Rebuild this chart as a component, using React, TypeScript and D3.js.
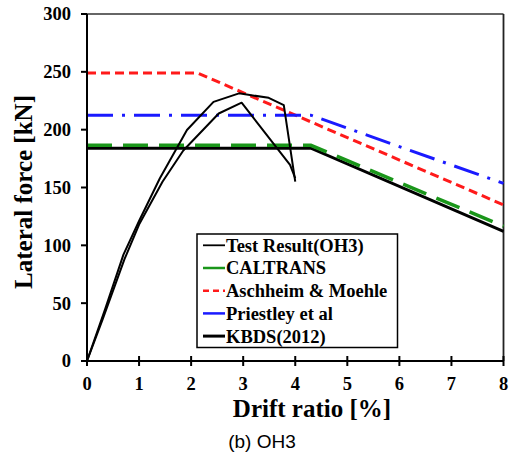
import React from "react";
import * as d3 from "d3";

type P = [number, number];

const xTicks = [0, 1, 2, 3, 4, 5, 6, 7, 8];
const yTicks = [0, 50, 100, 150, 200, 250, 300];

const testUpper: P[] = [
  [0, 0], [0.35, 45], [0.7, 92], [1.0, 121], [1.4, 158], [1.92, 199.7],
  [2.43, 224], [2.92, 231.4], [3.49, 227.5], [3.78, 221.3], [4.0, 155],
];
const testLower: P[] = [
  [0, 0], [0.3, 36], [0.72, 88], [1.0, 118], [1.45, 155], [1.85, 182],
  [2.53, 214], [2.97, 223.3], [3.9, 169.5], [4.0, 158],
];
const kbds: P[] = [[0, 184], [4.3, 184], [8, 112]];
const caltrans: P[] = [[0, 186.5], [4.3, 186.5], [8, 116.5]];
const aschheim: P[] = [[0, 249], [2.12, 249], [8, 135]];
const priestley: P[] = [[0, 212.5], [4.3, 212.5], [8, 153.5]];

const legendLabels = [
  "Test Result(OH3)",
  "CALTRANS",
  "Aschheim & Moehle",
  "Priestley et al",
  "KBDS(2012)",
];

const W = 516, H = 459;
const x = d3.scaleLinear().domain([0, 8]).range([87, 503.5]);
const y = d3.scaleLinear().domain([0, 300]).range([361, 14]);
const line = d3.line<P>().x((d) => x(d[0])).y((d) => y(d[1]));

const serif = "'Liberation Serif', 'Times New Roman', serif";

export default function App() {
  const legendStyles = [
    { stroke: "#000", w: 1.8, dash: undefined as string | undefined },
    { stroke: "#1a961a", w: 2.5, dash: undefined },
    { stroke: "#ff1a1a", w: 2.5, dash: "6,4" },
    { stroke: "#1a1aff", w: 2.5, dash: undefined },
    { stroke: "#000", w: 3, dash: undefined },
  ];
  return (
    <svg width={W} height={H} style={{ position: "absolute", left: 0, top: 0 }}>
      <rect width={W} height={H} fill="#fff" />
      {/* frame */}
      <line x1={x(0)} x2={x(8)} y1={y(300)} y2={y(300)} stroke="#333" strokeWidth={1.5} />
      <line x1={x(8)} x2={x(8)} y1={y(300)} y2={y(0)} stroke="#222" strokeWidth={1.8} />

      {/* series */}
      <path d={line(kbds)!} fill="none" stroke="#000" strokeWidth={3} />
      <path d={line(caltrans)!} fill="none" stroke="#1a961a" strokeWidth={3.5} strokeDasharray="25,11" />
      <path d={line(aschheim)!} fill="none" stroke="#ff1a1a" strokeWidth={3} strokeDasharray="9,5" />
      <path d={line(priestley)!} fill="none" stroke="#1a1aff" strokeWidth={3} strokeDasharray="26,9,3,9" />
      <path d={line(testUpper)!} fill="none" stroke="#000" strokeWidth={2} strokeLinejoin="round" />
      <path d={line(testLower)!} fill="none" stroke="#000" strokeWidth={2} strokeLinejoin="round" />

      {/* axes */}
      <line x1={x(0)} x2={x(0)} y1={y(0)} y2={y(300)} stroke="#000" strokeWidth={2} />
      <line x1={x(0)} x2={x(8)} y1={y(0)} y2={y(0)} stroke="#000" strokeWidth={2} />
      {yTicks.map((t) => (
        <g key={"y" + t}>
          <line x1={x(0) - 6} x2={x(0)} y1={y(t)} y2={y(t)} stroke="#000" strokeWidth={2} />
          <text x={71} y={y(t)} dy="0.35em" textAnchor="end" fontFamily={serif} fontWeight="bold" fontSize={18.5}>
            {t}
          </text>
        </g>
      ))}
      {xTicks.map((t) => (
        <g key={"x" + t}>
          <line x1={x(t)} x2={x(t)} y1={y(0) - 5} y2={y(0) + 5} stroke="#000" strokeWidth={2} />
          <text x={x(t)} y={389.5} textAnchor="middle" fontFamily={serif} fontWeight="bold" fontSize={18.5}>
            {t}
          </text>
        </g>
      ))}

      {/* axis titles */}
      <text
        transform={`translate(32,192) rotate(-90)`}
        textAnchor="middle"
        fontFamily={serif}
        fontWeight="bold"
        fontSize={25}
      >
        Lateral force [kN]
      </text>
      <text x={312} y={417} textAnchor="middle" fontFamily={serif} fontWeight="bold" fontSize={25}>
        Drift ratio [%]
      </text>
      <text x={262} y={448} textAnchor="middle" fontFamily="'Liberation Sans', Arial, sans-serif" fontSize={19}>
        (b) OH3
      </text>

      {/* legend */}
      <rect x={197} y={234} width={200.5} height={113.5} fill="#fff" stroke="#000" strokeWidth={1.5} />
      {legendLabels.map((l, i) => {
        const cy = 245.3 + i * 22.7;
        const s = legendStyles[i];
        return (
          <g key={l}>
            <line x1={203} x2={225} y1={cy} y2={cy} stroke={s.stroke} strokeWidth={s.w} strokeDasharray={s.dash} />
            <text x={226} y={cy} dy="0.35em" fontFamily={serif} fontWeight="bold" fontSize={18.5}>
              {l}
            </text>
          </g>
        );
      })}
    </svg>
  );
}
